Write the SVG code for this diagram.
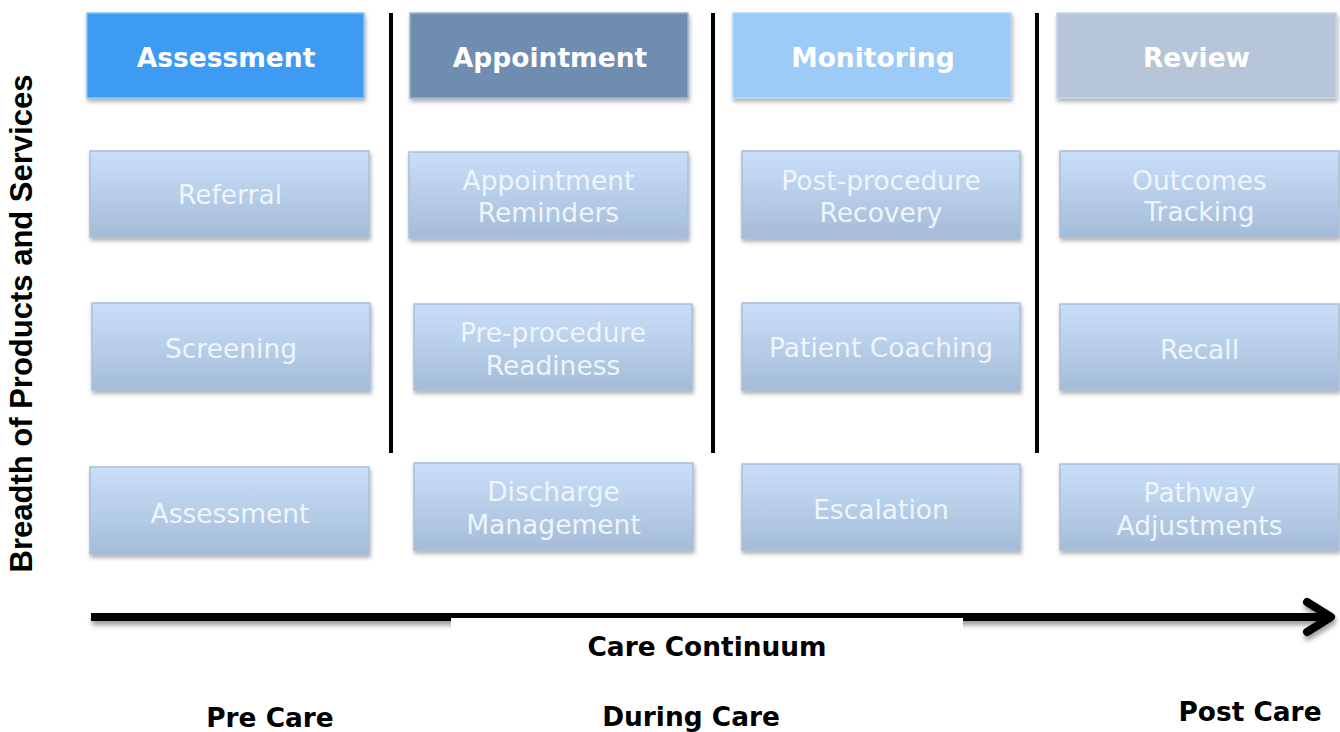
<svg xmlns="http://www.w3.org/2000/svg" width="1340" height="732" viewBox="0 0 1340 732">
<defs>
<linearGradient id="cardGrad" x1="0" y1="0" x2="0" y2="1">
<stop offset="0" stop-color="#c9dff9"/>
<stop offset="1" stop-color="#a5bcd8"/>
</linearGradient>
<filter id="shadow" x="-5%" y="-10%" width="115%" height="130%">
<feDropShadow dx="1" dy="3" stdDeviation="2" flood-color="#000" flood-opacity="0.32"/>
</filter>
<filter id="lineShadow" x="-2%" y="-100%" width="104%" height="400%">
<feDropShadow dx="1" dy="4" stdDeviation="2.5" flood-color="#000" flood-opacity="0.4"/>
</filter>
</defs>
<style>
.hdr text{font-family:"DejaVu Sans",Verdana,sans-serif;font-weight:bold;font-size:26.5px;fill:#ffffff;text-anchor:middle}
.card rect{fill:url(#cardGrad);stroke:#a9bfd9;stroke-width:1.5;filter:url(#shadow)}
.card text{font-family:"DejaVu Sans",Verdana,sans-serif;font-size:26.5px;fill:#eef5fd;text-anchor:middle}
.lbl{font-family:"DejaVu Sans",Verdana,sans-serif;font-weight:bold;font-size:26.4px;fill:#000;text-anchor:middle}
.divider{stroke:#000;stroke-width:4}
</style>

<g id="header-assessment" class="hdr">
<rect x="87" y="13" width="277" height="85" fill="#3d9bf3" stroke="#8dbff0" stroke-width="1.5" filter="url(#shadow)"/>
<text x="226" y="66.5">Assessment</text>
</g>
<g id="header-appointment" class="hdr">
<rect x="410" y="13" width="278" height="85" fill="#6e8db1" stroke="#9fb4cc" stroke-width="1.5" filter="url(#shadow)"/>
<text x="550" y="66.5">Appointment</text>
</g>
<g id="header-monitoring" class="hdr">
<rect x="733" y="13" width="278" height="85" fill="#9dcbf8" stroke="#b6d6f6" stroke-width="1.5" filter="url(#shadow)"/>
<text x="873" y="66.5">Monitoring</text>
</g>
<g id="header-review" class="hdr">
<rect x="1057" y="13" width="279" height="85" fill="#b6c6d8" stroke="#c7d3e1" stroke-width="1.5" filter="url(#shadow)"/>
<text x="1196.5" y="66.5">Review</text>
</g>

<g id="card-referral" class="card">
<rect x="90" y="151" width="279" height="86"/>
<text x="230" y="203.5">Referral</text>
</g>
<g id="card-screening" class="card">
<rect x="92" y="303" width="278" height="87"/>
<text x="231" y="357.5">Screening</text>
</g>
<g id="card-assessment" class="card">
<rect x="90" y="467" width="279" height="87"/>
<text x="230" y="522.5">Assessment</text>
</g>

<g id="card-appointment-reminders" class="card">
<rect x="409" y="152" width="279" height="86"/>
<text x="548.5" y="189.5">Appointment</text>
<text x="548.5" y="221.5">Reminders</text>
</g>
<g id="card-pre-procedure" class="card">
<rect x="414" y="304" width="278" height="86"/>
<text x="553" y="341.5">Pre-procedure</text>
<text x="553" y="374.5">Readiness</text>
</g>
<g id="card-discharge" class="card">
<rect x="414" y="463" width="279" height="87"/>
<text x="553.5" y="500.5">Discharge</text>
<text x="553.5" y="533.5">Management</text>
</g>

<g id="card-post-procedure" class="card">
<rect x="742" y="151" width="278" height="87"/>
<text x="881" y="189.5">Post-procedure</text>
<text x="881" y="221.5">Recovery</text>
</g>
<g id="card-patient-coaching" class="card">
<rect x="742" y="303" width="278" height="87"/>
<text x="881" y="356.5">Patient Coaching</text>
</g>
<g id="card-escalation" class="card">
<rect x="742" y="464" width="278" height="86"/>
<text x="881" y="518.5">Escalation</text>
</g>

<g id="card-outcomes" class="card">
<rect x="1060" y="151" width="279" height="86"/>
<text x="1199.5" y="189.5">Outcomes</text>
<text x="1199.5" y="220.5">Tracking</text>
</g>
<g id="card-recall" class="card">
<rect x="1060" y="304" width="279" height="86"/>
<text x="1199.5" y="358.5">Recall</text>
</g>
<g id="card-pathway" class="card">
<rect x="1060" y="464" width="279" height="86"/>
<text x="1199.5" y="501.5">Pathway</text>
<text x="1199.5" y="534.5">Adjustments</text>
</g>

<g id="connectors">
<line class="divider" x1="391" y1="13" x2="391" y2="453"/>
<line class="divider" x1="713" y1="13" x2="713" y2="453"/>
<line class="divider" x1="1037" y1="13" x2="1037" y2="453"/>
<g filter="url(#lineShadow)">
<line x1="91" y1="617" x2="1328" y2="617" stroke="#000" stroke-width="8"/>
<polyline points="1307,602 1331,617 1307,632" fill="none" stroke="#000" stroke-width="8" stroke-linecap="round" stroke-linejoin="round"/>
</g>
</g>

<rect id="axis-label-bg" x="451" y="618" width="512" height="44" fill="#ffffff"/>
<text class="lbl" x="707" y="655.5">Care Continuum</text>
<text class="lbl" x="270" y="727">Pre Care</text>
<text class="lbl" x="691" y="726">During Care</text>
<text class="lbl" x="1250" y="721">Post Care</text>
<text x="0" y="0" transform="translate(32,323.5) rotate(-90)" font-family="'Liberation Sans',Arial,sans-serif" font-weight="bold" font-size="31" fill="#000" text-anchor="middle">Breadth of Products and Services</text>
</svg>
